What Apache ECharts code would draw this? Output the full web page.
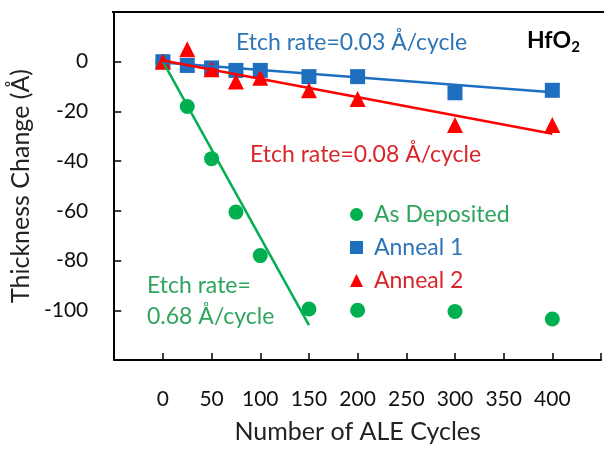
<!DOCTYPE html>
<html lang="en">
<head>
    <title>HfO2 ALE etch</title>
    <meta charset="utf-8">
    <style>
        html, body {margin: 0; padding: 0; background: #fff;}
        #container {width: 604px; height: 449px;}
    </style>
</head>
<body>
<div id="container"></div>
<script src="https://cdn.jsdelivr.net/npm/echarts@6/dist/echarts.min.js"></script>
<script>
// ALE cycles
var cycles = [0, 25, 50, 75, 100, 150, 200, 300, 400];
// thickness change (Å)
var asDeposited = [0, -18, -39, -60.5, -78, -99.5, -100, -100.5, -103.5];
var anneal1 = [0, -1.5, -2.5, -3.5, -3.5, -6, -6, -12.5, -11.5];
var anneal2 = [0, 5, -3, -8, -6.5, -11.5, -15, -25.5, -25.5];
// fitted lines [x, y] endpoints
var fitDeposited = [[0, 0], [150, -106]];
var fitAnneal1 = [[0, -0.3], [400, -12.3]];
var fitAnneal2 = [[0, 0.5], [400, -29]];

var green = '#00b050', blue = '#1f6fc0', red = '#ff0000';
var font = 'Lato';

function pairs(ys) {
    return cycles.map(function (x, i) { return [x, ys[i]]; });
}

var myChart = echarts.init(document.getElementById('container'));
var options = {
    animation: false,
    textStyle: {fontFamily: font},
    grid: {left: 112, right: -2, top: 12, bottom: 81},
    xAxis: {
        type: 'value', min: -50, max: 450, interval: 50,
        name: 'Number of ALE Cycles', nameLocation: 'middle', nameGap: 59,
        nameTextStyle: {fontSize: 25, color: '#222', fontFamily: font},
        axisLine: {show: true, onZero: false, lineStyle: {color: '#000', width: 2}},
        axisTick: {show: true, inside: true, length: 7, lineStyle: {color: '#000', width: 1.5}},
        axisLabel: {fontSize: 21, color: '#111', margin: 29,
            formatter: function (v) { return (v < 0 || v > 400) ? '' : v; }},
        splitLine: {show: false}
    },
    yAxis: {
        type: 'value', min: -120, max: 20, interval: 20,
        name: 'Thickness Change (Å)', nameLocation: 'middle', nameGap: 72,
        nameTextStyle: {fontSize: 25, color: '#222', fontFamily: font},
        axisLine: {show: true, onZero: false, lineStyle: {color: '#000', width: 2}},
        axisTick: {show: true, inside: true, length: 7, lineStyle: {color: '#000', width: 1.5}},
        axisLabel: {fontSize: 21, color: '#111', margin: 26,
            formatter: function (v) { return (v < -100 || v > 0) ? '' : v; }},
        splitLine: {show: false}
    },
    graphic: [
        {type: 'line', shape: {x1: 112, y1: 12, x2: 604, y2: 12}, style: {stroke: '#000', lineWidth: 2}},
        {type: 'text', left: 236, top: 31, style: {text: 'Etch rate=0.03 Å/cycle', fill: '#2e75b6', fontSize: 23, fontFamily: font}},
        {type: 'text', left: 250, top: 143, style: {text: 'Etch rate=0.08 Å/cycle', fill: '#d9262a', fontSize: 23, fontFamily: font}},
        {type: 'text', left: 147, top: 270, style: {text: 'Etch rate=\n0.68 Å/cycle', fill: '#2ea55c', fontSize: 23, lineHeight: 31, fontFamily: font}},
        {type: 'text', left: 527, top: 29, style: {
            text: '{a|HfO}{b|2}',
            rich: {
                a: {fontSize: 23, fontWeight: 'bold', fill: '#000', fontFamily: font},
                b: {fontSize: 15, fontWeight: 'bold', fill: '#000', fontFamily: font, padding: [14, 0, 0, 0]}
            }
        }}
    ],
    legend: {
        orient: 'vertical', left: 345, top: 198, itemGap: 10,
        itemWidth: 13, itemHeight: 13,
        textStyle: {fontSize: 23, fontFamily: font, padding: [0, 0, 0, 6]},
        data: [
            {name: 'As Deposited', icon: 'circle', textStyle: {color: '#2ea55c'}},
            {name: 'Anneal 1', icon: 'rect', textStyle: {color: '#2e75b6'}},
            {name: 'Anneal 2', icon: 'triangle', textStyle: {color: '#d9262a'}}
        ]
    },
    series: [
        {type: 'line', data: fitDeposited, symbol: 'none', lineStyle: {color: green, width: 2.5}, silent: true},
        {type: 'line', data: fitAnneal1, symbol: 'none', lineStyle: {color: blue, width: 2.5}, silent: true},
        {type: 'line', data: fitAnneal2, symbol: 'none', lineStyle: {color: red, width: 2.5}, silent: true},
        {name: 'As Deposited', type: 'scatter', symbol: 'circle', symbolSize: 15,
            itemStyle: {color: green, opacity: 1}, data: pairs(asDeposited)},
        {name: 'Anneal 1', type: 'scatter', symbol: 'rect', symbolSize: 15,
            itemStyle: {color: blue, opacity: 1}, data: pairs(anneal1)},
        {name: 'Anneal 2', type: 'scatter', symbol: 'triangle', symbolSize: 16,
            itemStyle: {color: red, opacity: 1}, data: pairs(anneal2)}
    ]
};
myChart.setOption(options);
</script>
</body>
</html>
